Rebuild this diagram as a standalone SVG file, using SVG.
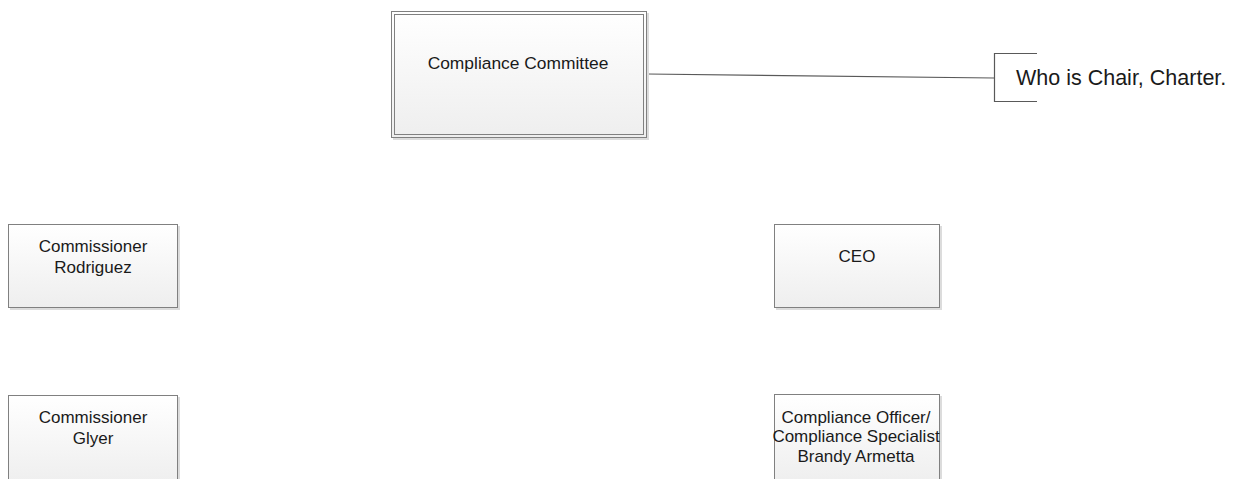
<svg xmlns="http://www.w3.org/2000/svg" width="1241" height="479" viewBox="0 0 1241 479">
  <defs>
    <linearGradient id="fill" x1="0" y1="0" x2="0" y2="1">
      <stop offset="0" stop-color="#ffffff"/>
      <stop offset="1" stop-color="#eeeeee"/>
    </linearGradient>
  </defs>
  <style>
    .box { fill: url(#fill); stroke: #808080; stroke-width: 1; }
    .shadow { fill: #dcdcdc; stroke: none; }
    .inner { fill: none; stroke: #808080; stroke-width: 1; }
    .lbl { font-family: "Liberation Sans", Arial, sans-serif; font-size: 17px; fill: #1a1a1a; text-anchor: middle; }
    .big { font-size: 17.4px; }
    .note { font-family: "Liberation Sans", Arial, sans-serif; font-size: 21.5px; fill: #1a1a1a; }
    .conn { fill: none; stroke: #595959; stroke-width: 1.2; }
  </style>
  <rect width="1241" height="479" fill="#ffffff"/>

  <g id="connectors">
    <line class="conn" x1="647" y1="74" x2="994" y2="78"/>
    <path class="conn" d="M1037,53.5 H994.5 V101.5 H1037"/>
  </g>

  <g id="compliance-committee">
    <rect class="shadow" x="393" y="13" width="256" height="127"/>
    <rect class="box" x="391.5" y="11.5" width="255" height="126"/>
    <rect class="inner" x="394.5" y="14.5" width="249" height="120"/>
    <text class="lbl big" x="518" y="69">Compliance Committee</text>
  </g>

  <g id="note">
    <text class="note" x="1016" y="85">Who is Chair, Charter.</text>
  </g>

  <g id="commissioner-rodriguez">
    <rect class="shadow" x="10" y="226" width="170" height="84"/>
    <rect class="box" x="8.5" y="224.5" width="169" height="83"/>
    <text class="lbl" x="93" y="252">Commissioner</text>
    <text class="lbl" x="93" y="273">Rodriguez</text>
  </g>

  <g id="ceo">
    <rect class="shadow" x="776" y="226" width="166" height="84"/>
    <rect class="box" x="774.5" y="224.5" width="165" height="83"/>
    <text class="lbl" x="857" y="262">CEO</text>
  </g>

  <g id="commissioner-glyer">
    <rect class="shadow" x="10" y="397" width="170" height="90"/>
    <rect class="box" x="8.5" y="395.5" width="169" height="90"/>
    <text class="lbl" x="93" y="423">Commissioner</text>
    <text class="lbl" x="93" y="444">Glyer</text>
  </g>

  <g id="compliance-officer">
    <rect class="shadow" x="776" y="396" width="166" height="90"/>
    <rect class="box" x="774.5" y="394.5" width="165" height="90"/>
    <text class="lbl" x="856" y="423">Compliance Officer/</text>
    <text class="lbl" x="856" y="442">Compliance Specialist</text>
    <text class="lbl" x="856" y="462">Brandy Armetta</text>
  </g>
</svg>
